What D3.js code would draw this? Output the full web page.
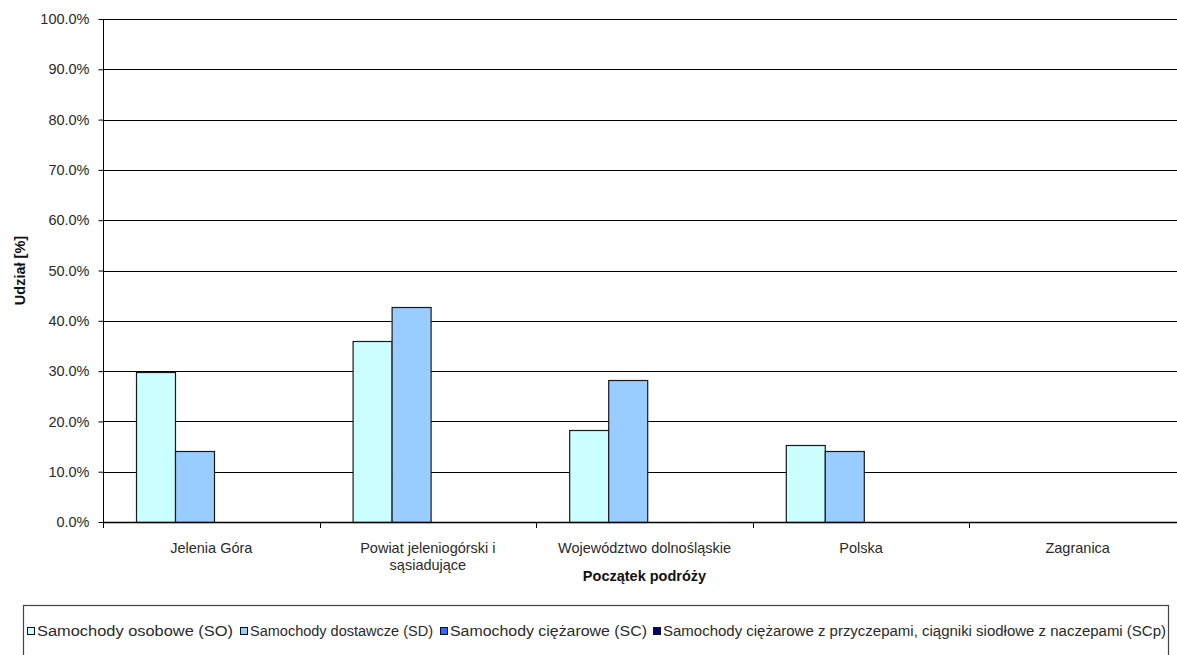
<!DOCTYPE html>
<html>
<head>
<meta charset="utf-8">
<script src="https://cdn.jsdelivr.net/npm/d3@7"></script>
<style>
  html, body { margin: 0; padding: 0; background: #fff; }
  svg { display: block; font-family: "Liberation Sans", Arial, sans-serif; }
</style>
</head>
<body>
<svg id="chart" width="1177" height="655"></svg>
<script>
// Starting point of trips, share by vehicle type
const categories = [
  ["Jelenia Góra"],
  ["Powiat jeleniogórski i", "sąsiadujące"],
  ["Województwo dolnośląskie"],
  ["Polska"],
  ["Zagranica"]
];
const seriesNames = [
  "Samochody osobowe (SO)",
  "Samochody dostawcze (SD)",
  "Samochody ciężarowe (SC)",
  "Samochody ciężarowe z przyczepami, ciągniki siodłowe z naczepami (SCp)"
];
const valuesSO  = [29.8, 36.0, 18.3, 15.3, 0];
const valuesSD  = [14.1, 42.8, 28.2, 14.2, 0];
const valuesSC  = [0, 0, 0, 0, 0];
const valuesSCp = [0, 0, 0, 0, 0];
const yTicks = [0, 10, 20, 30, 40, 50, 60, 70, 80, 90, 100];
const colors = ["#ccffff", "#99ccff", "#3366ff", "#000080"];

const series = [valuesSO, valuesSD, valuesSC, valuesSCp];
const svg = d3.select("#chart");

const plot = { left: 103, right: 1186, top: 19, bottom: 522 };

const x0 = d3.scaleBand()
  .domain(d3.range(categories.length))
  .range([plot.left, plot.right])
  .paddingInner(0)
  .paddingOuter(0);

const x1 = d3.scaleBand()
  .domain(d3.range(series.length))
  .range([0, x0.bandwidth()])
  .paddingInner(0)
  .paddingOuter(0.78)
  .align(0.55);

const y = d3.scaleLinear().domain([0, 100]).range([plot.bottom, plot.top]);

// Horizontal gridlines
svg.append("g")
  .selectAll("line")
  .data(yTicks.filter(t => t > 0))
  .join("line")
  .attr("x1", plot.left).attr("x2", plot.right)
  .attr("y1", d => Math.round(y(d)) + 0.5).attr("y2", d => Math.round(y(d)) + 0.5)
  .attr("stroke", "#000").attr("stroke-width", 1);

// Bars
const groups = svg.append("g")
  .selectAll("g")
  .data(categories.map((c, i) => i))
  .join("g")
  .attr("transform", i => `translate(${x0(i)},0)`);

groups.selectAll("rect")
  .data(i => series.map((s, k) => ({ k, v: s[i] })).filter(d => d.v > 0))
  .join("rect")
  .attr("x", d => Math.round(x1(d.k)) + 0.5)
  .attr("y", d => Math.round(y(d.v)) + 0.5)
  .attr("width", Math.round(x1.bandwidth()))
  .attr("height", d => Math.round(y(0)) - Math.round(y(d.v)))
  .attr("fill", d => colors[d.k])
  .attr("stroke", "#1a1a1a")
  .attr("stroke-width", 1.2);

// Y axis
const yAxis = d3.axisLeft(y)
  .tickValues(yTicks)
  .tickFormat(d => d3.format(".1f")(d) + "%")
  .tickSize(5)
  .tickPadding(9);

const gy = svg.append("g")
  .attr("transform", `translate(${plot.left + 0.5},0)`)
  .call(yAxis);
gy.select(".domain").attr("stroke", "#000").attr("d", `M0,${plot.top}V${plot.bottom + 0.5}`);
gy.selectAll(".tick line").attr("stroke", "#000");
gy.selectAll(".tick text")
  .attr("font-size", 14.5)
  .attr("fill", "#2a2a2a")
  .attr("font-family", "\"Liberation Sans\", Arial, sans-serif");

// X axis line with boundary ticks
svg.append("line")
  .attr("x1", plot.left).attr("x2", plot.right)
  .attr("y1", plot.bottom + 0.5).attr("y2", plot.bottom + 0.5)
  .attr("stroke", "#000").attr("stroke-width", 1.3);

svg.append("g")
  .selectAll("line")
  .data(d3.range(categories.length + 1))
  .join("line")
  .attr("x1", i => Math.round(plot.left + i * x0.bandwidth()) + 0.5)
  .attr("x2", i => Math.round(plot.left + i * x0.bandwidth()) + 0.5)
  .attr("y1", plot.bottom).attr("y2", plot.bottom + 6)
  .attr("stroke", "#000");

// Category labels
const catLabels = svg.append("g")
  .selectAll("text")
  .data(categories)
  .join("text")
  .attr("x", (d, i) => x0(i) + x0.bandwidth() / 2)
  .attr("y", 553)
  .attr("text-anchor", "middle")
  .attr("font-size", 14.5)
  .attr("fill", "#2a2a2a");
catLabels.selectAll("tspan")
  .data(d => d)
  .join("tspan")
  .attr("x", function () { return d3.select(this.parentNode).attr("x"); })
  .attr("dy", (d, i) => i === 0 ? 0 : 17)
  .text(d => d);

// Axis titles
svg.append("text")
  .attr("x", (plot.left + plot.right) / 2)
  .attr("y", 581)
  .attr("text-anchor", "middle")
  .attr("font-size", 14.5)
  .attr("font-weight", "bold")
  .attr("fill", "#111")
  .text("Początek podróży");

svg.append("text")
  .attr("transform", `translate(25,${(plot.top + plot.bottom) / 2}) rotate(-90)`)
  .attr("text-anchor", "middle")
  .attr("font-size", 14.5)
  .attr("font-weight", "bold")
  .attr("fill", "#111")
  .text("Udział [%]");

// Legend
const legend = svg.append("g");
legend.append("rect")
  .attr("x", 23.5).attr("y", 605.5)
  .attr("width", 1145).attr("height", 70)
  .attr("fill", "#fff")
  .attr("stroke", "#444").attr("stroke-width", 1.2);

const legendX = [27, 240, 440, 653];
const legendEnd = [233, 433, 647, 1166];
seriesNames.forEach((name, k) => {
  legend.append("rect")
    .attr("x", legendX[k] + 0.5).attr("y", 627.5)
    .attr("width", 7).attr("height", 7)
    .attr("fill", colors[k])
    .attr("stroke", "#111").attr("stroke-width", 1);
  legend.append("text")
    .attr("x", legendX[k] + 10)
    .attr("y", 636)
    .attr("font-size", 14)
    .attr("fill", "#2a2a2a")
    .attr("textLength", legendEnd[k] - legendX[k] - 10)
    .attr("lengthAdjust", "spacingAndGlyphs")
    .text(name);
});
</script>
</body>
</html>
